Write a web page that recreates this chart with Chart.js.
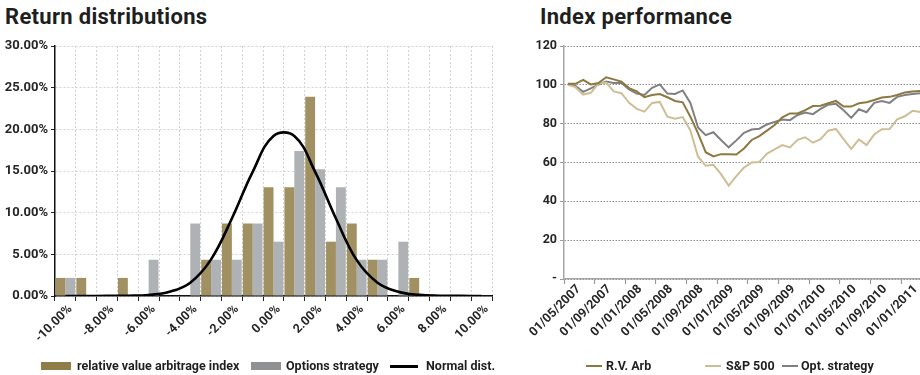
<!DOCTYPE html>
<html>
<head>
<meta charset="utf-8">
<script src="https://cdn.jsdelivr.net/npm/chart.js@4.4.1/dist/chart.umd.min.js"></script>
<style>
  html, body { margin: 0; padding: 0; background: #fff; }
  body { width: 920px; height: 375px; overflow: hidden; position: relative;
         font-family: Roboto, "DejaVu Sans", sans-serif; color: #1f1f1f; }
  .title { position: absolute; top: 4px; font-size: 22px; font-weight: 700; line-height: 26px;
           letter-spacing: 0.3px; white-space: nowrap; }
  .box { position: absolute; top: 0; height: 375px; }
  .lg { position: absolute; font-size: 12.5px; font-weight: 700; line-height: 14px; white-space: nowrap; top: 359px; }
  .sw { position: absolute; }
</style>
</head>
<body>
<div class="title" style="left:5px">Return distributions</div>
<div class="title" style="left:540px">Index performance</div>

<div class="box" style="left:0;width:500px"><canvas id="dist" width="500" height="375"></canvas></div>
<div class="box" style="left:505px;width:425px"><canvas id="perf" width="425" height="375"></canvas></div>

<!-- legend: return distributions -->
<div class="sw" style="left:41px;top:362px;width:30px;height:8px;background:#8f7c47"></div>
<div class="lg" style="left:77px">relative value arbitrage index</div>
<div class="sw" style="left:251px;top:362px;width:30px;height:8px;background:#8f9193"></div>
<div class="lg" style="left:286px">Options strategy</div>
<div class="sw" style="left:390px;top:365px;width:28px;height:2.5px;background:#000"></div>
<div class="lg" style="left:426px">Normal dist.</div>

<!-- legend: index performance -->
<div class="sw" style="left:586px;top:365px;width:16px;height:2px;background:#8c7840"></div>
<div class="lg" style="left:606px">R.V. Arb</div>
<div class="sw" style="left:705px;top:365px;width:16px;height:2px;background:#cdbe96"></div>
<div class="lg" style="left:726px">S&amp;P 500</div>
<div class="sw" style="left:782px;top:365px;width:16px;height:2px;background:#808080"></div>
<div class="lg" style="left:801px">Opt. strategy</div>

<script>
// Monthly return buckets (1% wide)
const returnBins = ['-10.00%', '-9.00%', '-8.00%', '-7.00%', '-6.00%', '-5.00%', '-4.00%',
  '-3.00%', '-2.00%', '-1.00%', '0.00%', '1.00%', '2.00%', '3.00%', '4.00%', '5.00%',
  '6.00%', '7.00%', '8.00%', '9.00%', '10.00%'];

// Share of months in each bucket (%)
const rvArbFreq = [2.17, 2.17, 0, 2.17, 0, 0, 0, 4.35, 8.70, 8.70, 13.04, 13.04, 23.91,
  6.52, 8.70, 4.35, 0, 2.17, 0, 0, 0];
const optionsFreq = [2.17, 0, 0, 0, 4.35, 0, 8.70, 4.35, 4.35, 8.70, 6.52, 17.39, 15.22,
  13.04, 4.35, 4.35, 6.52, 0, 0, 0, 0];
const normalDist = [0, 0, 0.01, 0.03, 0.12, 0.5, 1.6, 4.4, 9.3, 14.9, 19.2, 19.2, 14.9,
  9.3, 4.3, 1.6, 0.5, 0.13, 0.03, 0.01, 0];

// Monthly index levels
const months = ['01/05/2007', '01/06/2007', '01/07/2007', '01/08/2007', '01/09/2007', '01/10/2007',
  '01/11/2007', '01/12/2007', '01/01/2008', '01/02/2008', '01/03/2008', '01/04/2008', '01/05/2008',
  '01/06/2008', '01/07/2008', '01/08/2008', '01/09/2008', '01/10/2008', '01/11/2008', '01/12/2008',
  '01/01/2009', '01/02/2009', '01/03/2009', '01/04/2009', '01/05/2009', '01/06/2009', '01/07/2009',
  '01/08/2009', '01/09/2009', '01/10/2009', '01/11/2009', '01/12/2009', '01/01/2010', '01/02/2010',
  '01/03/2010', '01/04/2010', '01/05/2010', '01/06/2010', '01/07/2010', '01/08/2010', '01/09/2010',
  '01/10/2010', '01/11/2010', '01/12/2010', '01/01/2011', '01/02/2011', '01/03/2011'];
const rvArb = [100.6, 100.5, 102.6, 100.2, 100.9, 103.9, 102.8, 101.6, 98.3, 96.6, 93.6, 94.8,
  95.3, 93.6, 91.7, 91.0, 83.6, 75.0, 65.3, 63.1, 64.3, 64.3, 64.1, 67.2, 71.6, 73.6, 76.4, 79.3,
  83.3, 85.3, 85.3, 87.0, 89.1, 89.2, 90.5, 91.7, 88.8, 88.8, 90.5, 91.0, 92.2, 93.5, 93.8, 94.8,
  96.1, 96.6, 96.8];
const sp500 = [100.0, 98.8, 95.0, 95.9, 100.7, 101.2, 96.6, 95.7, 90.7, 87.6, 86.2, 90.7, 91.2,
  83.6, 82.6, 83.4, 76.5, 63.0, 58.3, 58.8, 54.0, 48.1, 53.0, 57.4, 60.0, 60.3, 64.6, 66.8, 69.0,
  67.8, 71.7, 73.0, 70.2, 72.0, 76.4, 77.3, 72.0, 67.0, 71.9, 69.0, 74.4, 77.1, 77.2, 82.2, 83.8,
  86.6, 86.0];
const optStrategy = [100.4, 99.5, 96.4, 98.2, 100.2, 101.7, 101.0, 100.9, 97.6, 95.5, 94.8, 98.5,
  100.2, 95.5, 95.3, 97.1, 90.7, 78.0, 74.1, 75.6, 71.6, 67.8, 71.4, 75.3, 77.0, 77.4, 79.6, 80.9,
  82.1, 81.8, 84.5, 85.7, 84.9, 87.6, 89.8, 90.2, 86.9, 83.0, 87.4, 85.9, 90.7, 91.6, 90.7, 93.8,
  94.8, 95.3, 95.7];

const FONT = 'Roboto, "DejaVu Sans", sans-serif';
const TEXT = '#262626';

Chart.defaults.animation = false;
Chart.defaults.responsive = false;
Chart.defaults.devicePixelRatio = 1;
Chart.defaults.plugins.legend.display = false;
Chart.defaults.plugins.tooltip.enabled = false;

new Chart(document.getElementById('dist'), {
  type: 'bar',
  data: {
    labels: returnBins,
    datasets: [
      { type: 'line', label: 'Normal dist.', data: normalDist, borderColor: '#000',
        borderWidth: 2.6, pointRadius: 0, tension: 0.4, fill: false, order: 0 },
      { label: 'relative value arbitrage index', data: rvArbFreq, backgroundColor: '#a19162',
        categoryPercentage: 0.95, barPercentage: 1, order: 1 },
      { label: 'Options strategy', data: optionsFreq, backgroundColor: '#afb2b4',
        categoryPercentage: 0.95, barPercentage: 1, order: 1 }
    ]
  },
  options: {
    layout: { padding: { top: 46, right: 8, left: 0, bottom: 0 } },
    scales: {
      x: {
        offset: true,
        grid: { offset: true, color: '#d2d2d2', tickLength: 5, tickColor: '#222', tickWidth: 1 },
        border: { color: '#111', width: 1.5, dash: [2, 2] },
        ticks: {
          autoSkip: false, minRotation: 45, maxRotation: 45, padding: 1, labelOffset: 5,
          callback: (v, i) => (i % 2 === 0 ? returnBins[i] : ''),
          font: { family: FONT, size: 12.5, weight: 'bold' }, color: TEXT
        },
        afterFit: s => { s.height = 79; }
      },
      y: {
        min: 0, max: 30,
        grid: { color: '#d2d2d2', tickLength: 4, tickColor: '#222' },
        border: { color: '#111', width: 1.5, dash: [2, 2] },
        ticks: {
          stepSize: 5, padding: 3,
          callback: v => Number(v).toFixed(2) + '%',
          font: { family: FONT, size: 13, weight: 'bold' }, color: TEXT
        },
        afterFit: s => { s.width = 55; }
      }
    }
  }
});

new Chart(document.getElementById('perf'), {
  type: 'line',
  data: {
    labels: months,
    datasets: [
      { label: 'R.V. Arb', data: rvArb, borderColor: '#8c7840', borderWidth: 2, pointRadius: 0, tension: 0 },
      { label: 'S&P 500', data: sp500, borderColor: '#cdbe96', borderWidth: 2, pointRadius: 0, tension: 0 },
      { label: 'Opt. strategy', data: optStrategy, borderColor: '#808080', borderWidth: 2, pointRadius: 0, tension: 0 }
    ]
  },
  options: {
    layout: { padding: { top: 46, right: 6, left: 0, bottom: 0 } },
    scales: {
      x: {
        offset: true,
        grid: {
          offset: true, drawOnChartArea: false, tickLength: 5, tickWidth: 1.2,
          tickColor: ctx => (ctx.index % 4 === 0 ? '#9a9a9a' : 'rgba(0,0,0,0)')
        },
        border: { color: '#a6a6a6', width: 1.5 },
        ticks: {
          autoSkip: false, minRotation: 45, maxRotation: 45, padding: -2, labelOffset: 11,
          callback: (v, i) => (i % 4 === 0 ? months[i] : ''),
          font: { family: FONT, size: 12.5, weight: 'bold' }, color: TEXT
        },
        afterFit: s => { s.height = 96; }
      },
      y: {
        min: 0, max: 120,
        grid: { color: '#8c8c8c', tickLength: 4, tickColor: '#9a9a9a' },
        border: { color: '#a6a6a6', width: 1.5, dash: [1.5, 1.5] },
        ticks: {
          stepSize: 20, padding: 3,
          callback: v => (v === 0 ? '-' : v),
          font: { family: FONT, size: 12.5, weight: 'bold' }, color: TEXT
        },
        afterFit: s => { s.width = 59; }
      }
    }
  }
});
</script>
</body>
</html>
